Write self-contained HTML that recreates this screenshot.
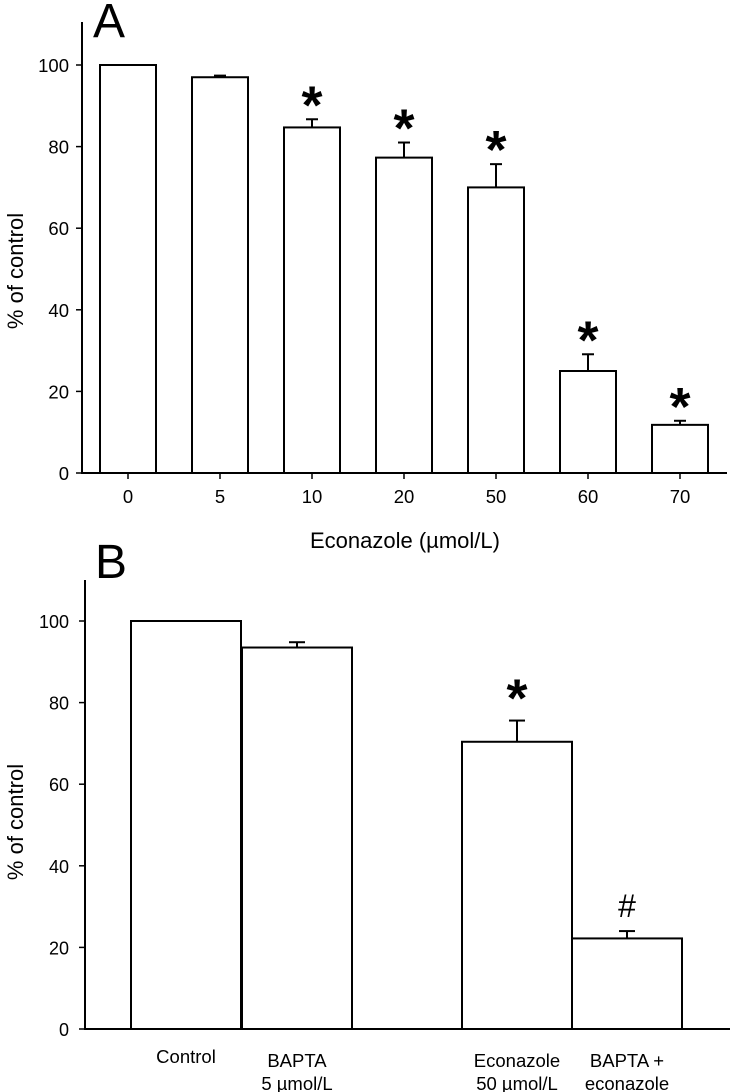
<!DOCTYPE html>
<html><head><meta charset="utf-8"><style>
html,body{margin:0;padding:0;background:#fff;}
svg{display:block;font-family:"Liberation Sans",Arial,sans-serif;}
.n{font-family:"Liberation Sans Narrow","Liberation Sans",sans-serif;}
</style></head><body>
<svg id="fig" width="731" height="1092" viewBox="0 0 731 1092"></svg>
<script>
const catsA = ["0","5","10","20","50","60","70"];
const valsA = [100,97,84.7,77.3,70,25,11.8];
const errsA = [0,0.4,2,3.7,5.7,4.1,1];
const starsA = ["","","*","*","*","*","*"];
const yTicks = [0,20,40,60,80,100];

const catsB = [["Control"],["BAPTA","5 µmol/L"],["Econazole","50 µmol/L"],["BAPTA  +","econazole"]];
const valsB = [100,93.5,70.4,22.2];
const errsB = [0,1.3,5.2,1.8];
const marksB = ["","","*","#"];

const NS="http://www.w3.org/2000/svg";
const svg=document.getElementById('fig');
function el(t,a,txt){const e=document.createElementNS(NS,t);for(const k in a)e.setAttribute(k,a[k]);if(txt!==undefined)e.textContent=txt;svg.appendChild(e);return e;}

// Panel A
const A={x0:82,y0:473,top:22,right:727,scale:4.08};
const yA=v=>A.y0-v*A.scale;
const xA=i=>128+i*92;
let e;
e=el('text',{x:93,y:37,'font-size':48},'A');


e=el('line',{x1:A.x0,y1:A.top,x2:A.x0,y2:A.y0+1,stroke:'#000','stroke-width':2});


yTicks.forEach(t=>{
  const y=yA(t);
  e=el('line',{x1:A.x0-6,y1:y,x2:A.x0,y2:y,stroke:'#000','stroke-width':1.5});
  
  
  e=el('text',{x:A.x0-13,y:y+7,'font-size':18.5,'text-anchor':'end'},t);
  
  
});
e=el('text',{x:0,y:0,'font-size':22,'text-anchor':'middle',transform:'translate(23,271) rotate(-90)'},'% of control');


catsA.forEach((c,i)=>{
  const cx=xA(i),v=valsA[i],y=yA(v);
  e=el('rect',{x:cx-28,y:y,width:56,height:A.y0-y,fill:'#fff',stroke:'#000','stroke-width':2});
  
  
  if(errsA[i]>0){
    const ye=yA(v+errsA[i]);
    e=el('line',{x1:cx,y1:y,x2:cx,y2:ye,stroke:'#000','stroke-width':2});
    
    
    e=el('line',{x1:cx-6,y1:ye,x2:cx+6,y2:ye,stroke:'#000','stroke-width':2});
    
    
  }
  if(starsA[i]){
    const ye=yA(v+errsA[i]);
    e=el('text',{x:cx,y:ye+4,'font-size':54,'font-weight':'bold','text-anchor':'middle'},starsA[i]);
    
    
  }
  e=el('line',{x1:cx,y1:A.y0,x2:cx,y2:A.y0+6,stroke:'#000','stroke-width':1.5});
  
  
  e=el('text',{x:cx,y:A.y0+30,'font-size':18.5,'text-anchor':'middle'},c);
  
  
});
e=el('line',{x1:A.x0,y1:A.y0,x2:A.right,y2:A.y0,stroke:'#000','stroke-width':2});


e=el('text',{x:405,y:548,'font-size':22,'text-anchor':'middle'},'Econazole (µmol/L)');



// Panel B
const B={x0:85,y0:1029,top:580,right:730,scale:4.08};
const yB=v=>B.y0-v*B.scale;
const barL=[131,242,462,572];
const bw=110;
e=el('text',{x:95,y:578,'font-size':48},'B');


e=el('line',{x1:B.x0,y1:B.top,x2:B.x0,y2:B.y0+1,stroke:'#000','stroke-width':2});


yTicks.forEach(t=>{
  const y=yB(t);
  e=el('line',{x1:B.x0-6,y1:y,x2:B.x0,y2:y,stroke:'#000','stroke-width':1.5});
  
  
  e=el('text',{x:B.x0-16,y:y+7,'font-size':18,'text-anchor':'end','class':'n'},t);
  
  
});
e=el('text',{x:0,y:0,'font-size':22,'text-anchor':'middle',transform:'translate(23,822) rotate(-90)'},'% of control');


catsB.forEach((c,i)=>{
  const x=barL[i],cx=x+bw/2,v=valsB[i],y=yB(v);
  e=el('rect',{x:x,y:y,width:bw,height:B.y0-y,fill:'#fff',stroke:'#000','stroke-width':2});
  
  
  if(errsB[i]>0){
    const ye=yB(v+errsB[i]);
    e=el('line',{x1:cx,y1:y,x2:cx,y2:ye,stroke:'#000','stroke-width':2});
    
    
    e=el('line',{x1:cx-8,y1:ye,x2:cx+8,y2:ye,stroke:'#000','stroke-width':2});
    
    
  }
  if(marksB[i]){
    const ye=yB(v+errsB[i]);
    const star=marksB[i]==='*';
    e=el('text',{x:cx,y:star?ye-4:ye-14,'font-size':star?54:32,'font-weight':star?'bold':'normal','text-anchor':'middle','class':star?'':'n'},marksB[i]);
    
    
  }
  c.forEach((ln,j)=>{
    e=el('text',{x:cx,y:(i===0?1063:1067)+j*23,'font-size':18.5,'text-anchor':'middle','class':'n'},ln);
    
    
  });
});
e=el('line',{x1:B.x0,y1:B.y0,x2:B.right,y2:B.y0,stroke:'#000','stroke-width':2});


</script>
</body></html>
